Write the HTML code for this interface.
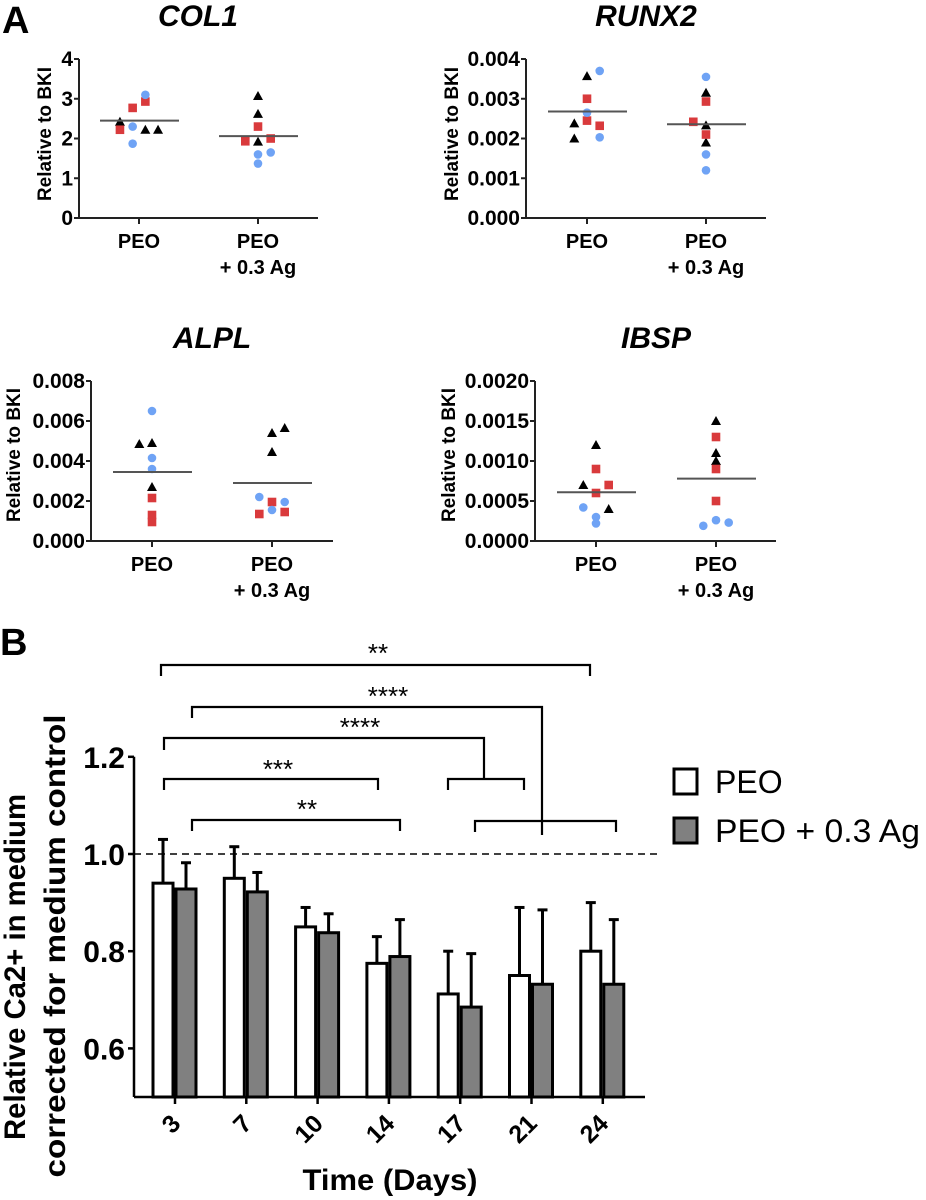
<!DOCTYPE html>
<html><head><meta charset="utf-8"><style>
html,body{margin:0;padding:0;background:#fff;}
svg{display:block;font-family:"Liberation Sans",Arial,sans-serif;}
</style></head><body>
<svg id="fig" width="926" height="1200" viewBox="0 0 926 1200" xmlns="http://www.w3.org/2000/svg">
<text x="2" y="33" font-size="38" font-weight="bold">A</text>
<text x="0" y="655" font-size="38" font-weight="bold">B</text>
<g id="panelA"></g>
<g id="panelB"></g>
</svg>
<script>
// ---------- Panel A data: [value, marker(0=blue circle,1=red square,2=black triangle), slot] ----------
const col1Peo = [[2.42,2,-1.5],[2.22,1,-1.5],[2.30,0,-0.5],[1.87,0,-0.5],[2.77,1,-0.5],[2.93,1,0.5],[3.10,0,0.5],[2.22,2,0.5],[2.22,2,1.5]];
const col1Ag = [[3.07,2,0],[2.62,2,0],[1.92,2,0],[2.30,1,0],[1.93,1,-1],[2.00,1,1],[1.60,0,0],[1.37,0,0],[1.65,0,1]];
const col1Means = [2.45, 2.06];
const runx2Peo = [[0.00238,2,-1],[0.00200,2,-1],[0.00357,2,0],[0.00300,1,0],[0.00245,1,0],[0.00265,0,0],[0.00232,1,1],[0.00370,0,1],[0.00203,0,1]];
const runx2Ag = [[0.00355,0,0],[0.00160,0,0],[0.00120,0,0],[0.00315,2,0],[0.00233,2,0],[0.00190,2,0],[0.00293,1,0],[0.00210,1,0],[0.00242,1,-1]];
const runx2Means = [0.00268, 0.00236];
const alplPeo = [[0.00485,2,-1],[0.0065,0,0],[0.00415,0,0],[0.0036,0,0],[0.0049,2,0],[0.0027,2,0],[0.00215,1,0],[0.0013,1,0],[0.00095,1,0]];
const alplAg = [[0.0022,0,-1],[0.00135,1,-1],[0.0054,2,0],[0.00445,2,0],[0.00195,1,0],[0.00155,0,0],[0.00565,2,1],[0.00195,0,1],[0.00145,1,1]];
const alplMeans = [0.00345, 0.0029];
const ibspPeo = [[0.00070,2,-1],[0.00042,0,-1],[0.00120,2,0],[0.00090,1,0],[0.00060,1,0],[0.00030,0,0],[0.00022,0,0],[0.00070,1,1],[0.00040,2,1]];
const ibspAg = [[0.00019,0,-1],[0.00150,2,0],[0.00110,2,0],[0.00100,2,0],[0.00130,1,0],[0.00090,1,0],[0.00050,1,0],[0.00026,0,0],[0.00023,0,1]];
const ibspMeans = [0.00061, 0.00078];
const groupLabels = ["PEO", "PEO", "+ 0.3 Ag"];
const col1Ticks = ["0","1","2","3","4"];
const runx2Ticks = ["0.000","0.001","0.002","0.003","0.004"];
const alplTicks = ["0.000","0.002","0.004","0.006","0.008"];
const ibspTicks = ["0.0000","0.0005","0.0010","0.0015","0.0020"];

// ---------- Panel B data ----------
const days = ["3","7","10","14","17","21","24"];
const peoMeans = [0.94,0.95,0.85,0.775,0.712,0.75,0.80];
const peoErrTop = [1.03,1.015,0.89,0.83,0.80,0.89,0.90];
const agMeans = [0.928,0.922,0.838,0.789,0.685,0.732,0.732];
const agErrTop = [0.982,0.962,0.877,0.865,0.795,0.885,0.865];
const bTicks = [0.6,0.8,1.0,1.2];
const bTickLabels = ["0.6","0.8","1.0","1.2"];

const NS="http://www.w3.org/2000/svg";
function mk(parent,tag,attrs,text){const e=document.createElementNS(NS,tag);for(const k in attrs)e.setAttribute(k,attrs[k]);if(text!==undefined)e.textContent=text;parent.appendChild(e);return e;}

const colors=["#6fa3f5","#d93a3c","#000"];
function scatterPanel(cfg){
  const g=mk(document.getElementById('panelA'),'g',{});
  
  
  const yS=v=>cfg.y0-(v/cfg.max)*(cfg.y0-cfg.yTop);
  const t=mk(g,'text',{x:cfg.titleX,y:cfg.titleY,'font-size':30,'font-weight':'bold','font-style':'italic','text-anchor':'middle'},cfg.title);
  
  
  const yt=mk(g,'text',{x:0,y:0,'font-size':19,'font-weight':'bold','text-anchor':'middle',transform:`translate(${cfg.ytX},${cfg.ytY}) rotate(-90)`},'Relative to BKI');
  
  
  mk(g,'line',{x1:cfg.ax,y1:cfg.yTop,x2:cfg.ax,y2:cfg.y0,stroke:'#222','stroke-width':2});
  mk(g,'line',{x1:cfg.ax,y1:cfg.y0,x2:cfg.axEnd,y2:cfg.y0,stroke:'#222','stroke-width':2});
  cfg.ticks.forEach((lab,i)=>{const v=cfg.max*i/(cfg.ticks.length-1);const y=yS(v);
    mk(g,'line',{x1:cfg.ax-5,y1:y,x2:cfg.ax,y2:y,stroke:'#222','stroke-width':2});
    const tl=mk(g,'text',{x:cfg.ax-6,y:y+7,'font-size':21,'font-weight':'bold','text-anchor':'end'},lab);
    
    
  });
  [cfg.t1,cfg.t2].forEach((tx,gi)=>{
    mk(g,'line',{x1:tx,y1:cfg.y0,x2:tx,y2:cfg.y0+6,stroke:'#222','stroke-width':2});
    const l=mk(g,'text',{x:tx,y:cfg.y0+30,'font-size':20,'font-weight':'bold','text-anchor':'middle'},'PEO');
    
    
    if(gi===1){const l2=mk(g,'text',{x:tx,y:cfg.y0+56,'font-size':20,'font-weight':'bold','text-anchor':'middle'},groupLabels[2]);
      
      }
    const pts=gi===0?cfg.peo:cfg.ag;
    pts.forEach(p=>{const x=tx+p[2]*12.7,y=yS(p[0]);let m;
      if(p[1]===0)m=mk(g,'circle',{cx:x,cy:y,r:4.3,fill:colors[0]});
      else if(p[1]===1)m=mk(g,'rect',{x:x-4.3,y:y-4.3,width:8.6,height:8.6,fill:colors[1]});
      else m=mk(g,'polygon',{points:`${x},${y-5} ${x-5},${y+4} ${x+5},${y+4}`,fill:'#000'});
      
      
    });
    const my=yS(cfg.means[gi]);
    const ml=mk(g,'line',{x1:tx-39,y1:my,x2:tx+40,y2:my,stroke:'#555','stroke-width':2});
    
    
  });
}
scatterPanel({name:'col1',title:'COL1',titleX:198,titleY:26,ytX:51,ytY:134,ax:79,axEnd:318,yTop:59,y0:218,max:4,t1:139,t2:258,ticks:col1Ticks,peo:col1Peo,ag:col1Ag,means:col1Means});
scatterPanel({name:'runx2',title:'RUNX2',titleX:646,titleY:26,ytX:458,ytY:134,ax:526,axEnd:766,yTop:59,y0:218,max:0.004,t1:587,t2:706,ticks:runx2Ticks,peo:runx2Peo,ag:runx2Ag,means:runx2Means});
scatterPanel({name:'alpl',title:'ALPL',titleX:212,titleY:348,ytX:20,ytY:455,ax:91,axEnd:333,yTop:381,y0:541,max:0.008,t1:152,t2:272,ticks:alplTicks,peo:alplPeo,ag:alplAg,means:alplMeans});
scatterPanel({name:'ibsp',title:'IBSP',titleX:656,titleY:348,ytX:455,ytY:455,ax:535,axEnd:776,yTop:381,y0:541,max:0.002,t1:596,t2:716,ticks:ibspTicks,peo:ibspPeo,ag:ibspAg,means:ibspMeans});

// ---------- Panel B ----------
(function(){
  const g=document.getElementById('panelB');
  const ax=134, base=1097, yMin=0.5, pxPer=486;
  const yS=v=>base-(v-yMin)*pxPer;
  const xS=i=>175+i*71.3;
  mk(g,'line',{x1:ax,y1:yS(1.2),x2:ax,y2:base,stroke:'#000','stroke-width':2.5});
  mk(g,'line',{x1:ax,y1:base,x2:645,y2:base,stroke:'#000','stroke-width':2.5});
  bTicks.forEach((v,i)=>{const y=yS(v);
    mk(g,'line',{x1:ax-6,y1:y,x2:ax,y2:y,stroke:'#000','stroke-width':2.5});
    const t=mk(g,'text',{x:ax-9,y:y+11,'font-size':30,'font-weight':'bold','text-anchor':'end'},bTickLabels[i]);
    
    
  });
  const dl=mk(g,'line',{x1:ax,y1:yS(1.0),x2:660,y2:yS(1.0),stroke:'#000','stroke-width':1.5,'stroke-dasharray':'7 5'});
  
  
  const t1=mk(g,'text',{x:0,y:0,'font-size':30,'font-weight':'bold','text-anchor':'middle',textLength:346,lengthAdjust:'spacingAndGlyphs',transform:'translate(25,967) rotate(-90)'},'Relative Ca2+ in medium');
  
  
  const t2=mk(g,'text',{x:0,y:0,'font-size':30,'font-weight':'bold','text-anchor':'middle',textLength:463,lengthAdjust:'spacingAndGlyphs',transform:'translate(65,946) rotate(-90)'},'corrected for medium control');
  
  
  days.forEach((d,i)=>{const tx=xS(i);
    mk(g,'line',{x1:tx,y1:base,x2:tx,y2:base+7,stroke:'#000','stroke-width':2.5});
    const l=mk(g,'text',{x:0,y:0,'font-size':25,'font-weight':'bold','text-anchor':'end',transform:`translate(${tx+7},${base+28}) rotate(-45)`},d);
    
    
    [[peoMeans,peoErrTop,'#fff',tx-22,'peo'],[agMeans,agErrTop,'#808080',tx+1,'ag']].forEach(s=>{
      const v=s[0][i], e=s[1][i], bx=s[3], w=20;
      const cx=bx+w/2;
      const eb=mk(g,'line',{x1:cx,y1:yS(v),x2:cx,y2:yS(e),stroke:'#000','stroke-width':3});
      
      
      mk(g,'line',{x1:cx-5,y1:yS(e),x2:cx+5,y2:yS(e),stroke:'#000','stroke-width':3});
      const r=mk(g,'rect',{x:bx,y:yS(v),width:w,height:base-yS(v),fill:s[2],stroke:'#000','stroke-width':3});
      
      
    });
  });
  const xt=mk(g,'text',{x:390,y:1190,'font-size':30,'font-weight':'bold','text-anchor':'middle',textLength:175,lengthAdjust:'spacingAndGlyphs'},'Time (Days)');
  
  
  const P=(d)=>mk(g,'path',{d:d,fill:'none',stroke:'#000','stroke-width':2.2});
  let b;
  b=P('M161 676 V665 H590 V676');  
  b=P('M192 718 V707 H542 V835');  
  b=P('M164 750 V738 H484 V779');  
  b=P('M448 790 V779 H524 V790');  
  b=P('M164 790 V779 H378 V790');  
  b=P('M192 831 V820 H400 V831');  
  b=P('M475 832 V821 H616 V832');  
  [[378,662,'**'],[388,705,'****'],[360,736,'****'],[278,778,'***'],[307,818,'**']].forEach(s=>{
    const t=mk(g,'text',{x:s[0],y:s[1],'font-size':26,'text-anchor':'middle'},s[2]);
    
    
  });
  const lg=mk(g,'g',{});
  
  
  const r1=mk(lg,'rect',{x:674,y:769,width:23,height:25,fill:'#fff',stroke:'#000','stroke-width':3});
  
  
  const l1=mk(lg,'text',{x:715,y:793,'font-size':32},'PEO');
  
  
  const r2=mk(lg,'rect',{x:674,y:818,width:23,height:25,fill:'#808080',stroke:'#000','stroke-width':3});
  
  
  const l2=mk(lg,'text',{x:715,y:842,'font-size':32,textLength:205,lengthAdjust:'spacingAndGlyphs'},'PEO + 0.3 Ag');
  
  
})();
</script>
</body></html>
